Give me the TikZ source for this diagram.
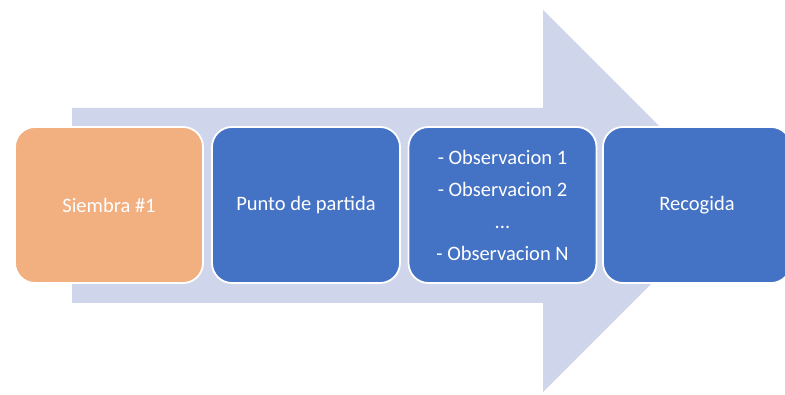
\documentclass[tikz,border=0pt]{standalone}
\usepackage{fontspec}
\setmainfont{Carlito}
\definecolor{arrowfill}{HTML}{CFD5EA}
\definecolor{orangebox}{HTML}{F2AF80}
\definecolor{bluebox}{HTML}{4472C4}
\begin{document}
\begin{tikzpicture}[x=1pt,y=-1pt,
  stepbox/.style={draw=white,line width=1.8pt,rounded corners=20pt,minimum width=188pt,minimum height=156pt,
    text=white,font=\fontsize{20.5}{32}\selectfont,align=center,inner sep=0pt},
  orangestep/.style={stepbox,fill=orangebox},
  bluestep/.style={stepbox,fill=bluebox}]
\useasboundingbox (0,0) rectangle (785,395);
\fill[arrowfill] (72,108) -- (543,108) -- (543,10) -- (734,201) -- (543,392) -- (543,303) -- (72,303) -- cycle;
\node[orangestep] (s1) at (109,205) {Siembra \#1};
\node[bluestep] (s2) at (306,205) {Punto de partida};
\node[bluestep] (s3) at (502.5,205) {- Observacion 1\\- Observacion 2\\...\\- Observacion N};
\node[bluestep] (s4) at (697,205) {Recogida};
\end{tikzpicture}
\end{document}
